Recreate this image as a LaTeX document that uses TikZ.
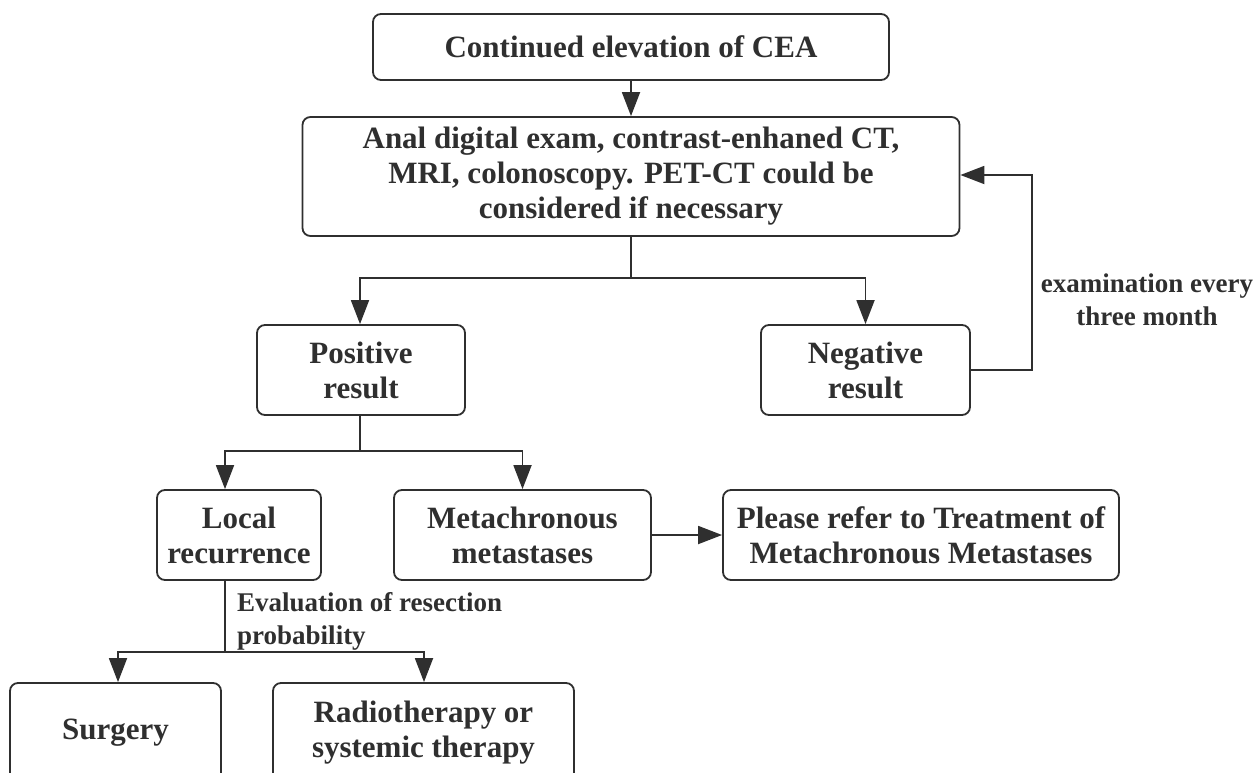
\documentclass[tikz,border=0pt]{standalone}
\usepackage{fontspec}
\setmainfont{Liberation Serif}
\usetikzlibrary{arrows.meta}
\definecolor{ink}{HTML}{2F2F2F}
\begin{document}
\begin{tikzpicture}[x=1pt,y=-1pt,
  box/.style={draw=ink, line width=1.8pt, rounded corners=8pt, text=ink,
    align=center, inner sep=0pt,
    font=\bfseries\fontsize{31}{35}\selectfont},
  lbl/.style={text=ink, inner sep=0pt, font=\bfseries\fontsize{27}{33}\selectfont},
  link/.style={draw=ink, line width=1.8pt},
  arr/.style={link, -{Triangle[length=24pt,width=18pt]}}]
\useasboundingbox (0,0) rectangle (1253,772);

% boxes
\node[box, minimum width=516pt, minimum height=66pt] (cea) at (631,47) {Continued elevation of CEA};
\node[box, minimum width=657pt, minimum height=119pt] (exam) at (631,176.5)
  {Anal digital exam, contrast-enhaned CT,\\MRI, colonoscopy. PET-CT could be\\considered if necessary};
\node[box, minimum width=208pt, minimum height=90pt] (pos) at (361,370) {Positive\\result};
\node[box, minimum width=209pt, minimum height=90pt] (neg) at (865.5,370) {Negative\\result};
\node[box, minimum width=164pt, minimum height=90pt] (local) at (239,535) {Local\\recurrence};
\node[box, minimum width=257pt, minimum height=90pt] (meta) at (522.5,535) {Metachronous\\metastases};
\node[box, minimum width=396pt, minimum height=90pt] (refer) at (921,535)
  {Please refer to Treatment of\\Metachronous Metastases};
\node[box, minimum width=211pt, minimum height=100pt] (surg) at (115.5,733) {Surgery};
\node[box, minimum width=301pt, minimum height=100pt] (radio) at (423.5,733)
  {Radiotherapy or\\systemic therapy};

% branch points
\coordinate (j1) at (631,278);
\coordinate (j2) at (360,451);
\coordinate (j3) at (225,652);
\coordinate (fb) at (1032,370);

% connectors
\draw[arr] (cea) -- (exam);
\draw[link] (exam.south) -- (j1);
\draw[arr] (j1) -| ([xshift=-1pt]pos.north);
\draw[arr] (j1) -| (neg.north);
\draw[link] ([xshift=-1pt]pos.south) -- (j2);
\draw[arr] (j2) -| ([xshift=-14pt]local.north);
\draw[arr] (j2) -| (meta.north);
\draw[arr] (meta) -- (refer);
\draw[link] ([xshift=-14pt]local.south) -- (j3);
\draw[arr] (j3) -| ([xshift=2.5pt]surg.north);
\draw[arr] (j3) -| ([xshift=0.5pt]radio.north);
\draw[arr] (neg.east) -- (fb) |- (exam.east |- 0,175);

% labels
\node[lbl, align=center] (every) at (1147,300) {examination every\\three month};
\node[lbl, align=left, anchor=west] (eval) at (237,621) {Evaluation of resection\\probability};
\end{tikzpicture}
\end{document}
